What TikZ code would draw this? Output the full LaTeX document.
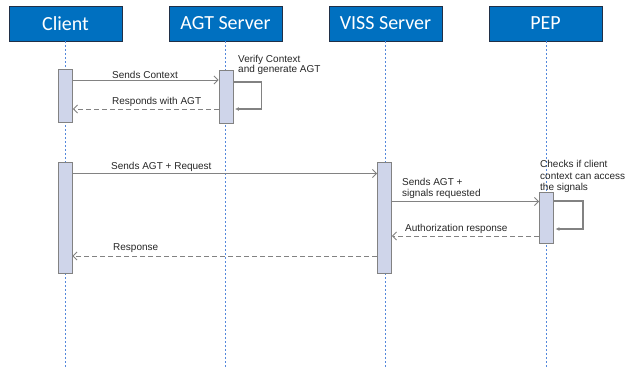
\documentclass[tikz,border=0pt]{standalone}
\usepackage{fontspec}
\setmainfont{Liberation Sans}
\newfontfamily\hdrfont{Carlito}
\usepackage{tikz}
\usetikzlibrary{calc,arrows.meta}
\definecolor{hdrBlue}{RGB}{0,112,192}
\definecolor{hdrEdge}{RGB}{32,48,72}
\definecolor{actFill}{RGB}{207,213,234}
\definecolor{sqGray}{RGB}{130,130,130}
\definecolor{lifeBlue}{RGB}{84,136,220}
\definecolor{txtGray}{RGB}{38,38,38}

\begin{document}
\begin{tikzpicture}[x=1pt,y=-1pt,
  hdr/.style={draw=hdrEdge, line width=0.8pt, fill=hdrBlue, text=white,
    minimum width=113pt, minimum height=35pt, inner sep=0pt, font=\hdrfont\fontsize{20}{24}\selectfont},
  act/.style={draw=sqGray, line width=0.9pt, fill=actFill, minimum width=14pt, inner sep=0pt},
  life/.style={lifeBlue, line width=0.6pt, dash pattern=on 2pt off 2pt},
  msg/.style={sqGray, line width=0.9pt, -{Straight Barb[length=4pt,width=8pt]}},
  reply/.style={msg, dash pattern=on 5pt off 3pt},
  selfloop/.style={sqGray, line width=1.5pt, -{Latex[length=4pt,width=4pt]}},
  lbl/.style={text=txtGray, font=\fontsize{10}{11.5}\selectfont, inner sep=0pt, align=left}]
\useasboundingbox (0,0) rectangle (627,368);

% participants
\node[hdr] (client) at (65.5,23.5) {Client};
\node[hdr] (agt) at (225.5,23.5) {AGT Server};
\node[hdr] (viss) at (385.5,23.5) {VISS Server};
\node[hdr] (pep) at (545.5,23.5) {PEP};

% lifelines
\coordinate (clientEnd) at (65.5,368);
\coordinate (agtEnd) at (225.5,368);
\coordinate (vissEnd) at (385.5,368);
\coordinate (pepEnd) at (546.5,368);
\draw[life] (client.south) -- (clientEnd);
\draw[life] (agt.south) -- (agtEnd);
\draw[life] (viss.south) -- (vissEnd);
\draw[life] ([xshift=1pt]pep.south) -- (pepEnd);

% activations
\node[act, minimum height=53pt] (clientA) at (65.5,95.5) {};
\node[act, minimum height=53pt] (agtA) at (226,96.5) {};
\node[act, minimum height=111pt] (clientB) at (65,217.5) {};
\node[act, minimum height=111pt] (vissA) at (384.5,217.5) {};
\node[act, minimum height=51pt] (pepA) at (546.5,217.5) {};

% first exchange
\coordinate (m1) at (0,80);
\coordinate (m2) at (0,109);
\draw[msg] (clientA.east |- m1) -- (agtA.west |- m1);
\draw[reply] (agtA.west |- m2) -- (clientA.east |- m2);
\draw[selfloop] (agtA.east |- 0,82) -- ++(28,0) |- ([xshift=1.5pt]agtA.east |- m2);
\node[lbl, anchor=south west] (m1lbl) at (112,78.5) {Sends Context};
\node[lbl, anchor=south west] (m2lbl) at (112,107) {Responds with AGT};
\node[lbl, anchor=north west] (agtnote) at (238,55) {Verify Context\\[-1.3pt]and generate AGT};

% second exchange
\coordinate (m3) at (0,173.5);
\coordinate (m4) at (0,201.5);
\coordinate (m5) at (0,236);
\coordinate (m6) at (0,256);
\draw[msg] (clientB.east |- m3) -- (vissA.west |- m3);
\draw[msg] (vissA.east |- m4) -- (pepA.west |- m4);
\draw[selfloop] (pepA.east |- 0,201) -- ++(29,0) |- ([xshift=1.5pt]pepA.east |- 0,229);
\draw[reply] (pepA.west |- m5) -- (vissA.east |- m5);
\draw[reply] (vissA.west |- m6) -- (clientB.east |- m6);
\node[lbl, anchor=south west] (m3lbl) at (111,171.5) {Sends AGT + Request};
\node[lbl, anchor=south west] (m4lbl) at (402,199) {Sends AGT +\\signals requested};
\node[lbl, anchor=south west] (m5lbl) at (405,233.5) {Authorization response};
\node[lbl, anchor=south west] (m6lbl) at (113,253) {Response};
\node[lbl, anchor=north west] (pepnote) at (540,160.5) {Checks if client\\context can access\\the signals};
\end{tikzpicture}
\end{document}
